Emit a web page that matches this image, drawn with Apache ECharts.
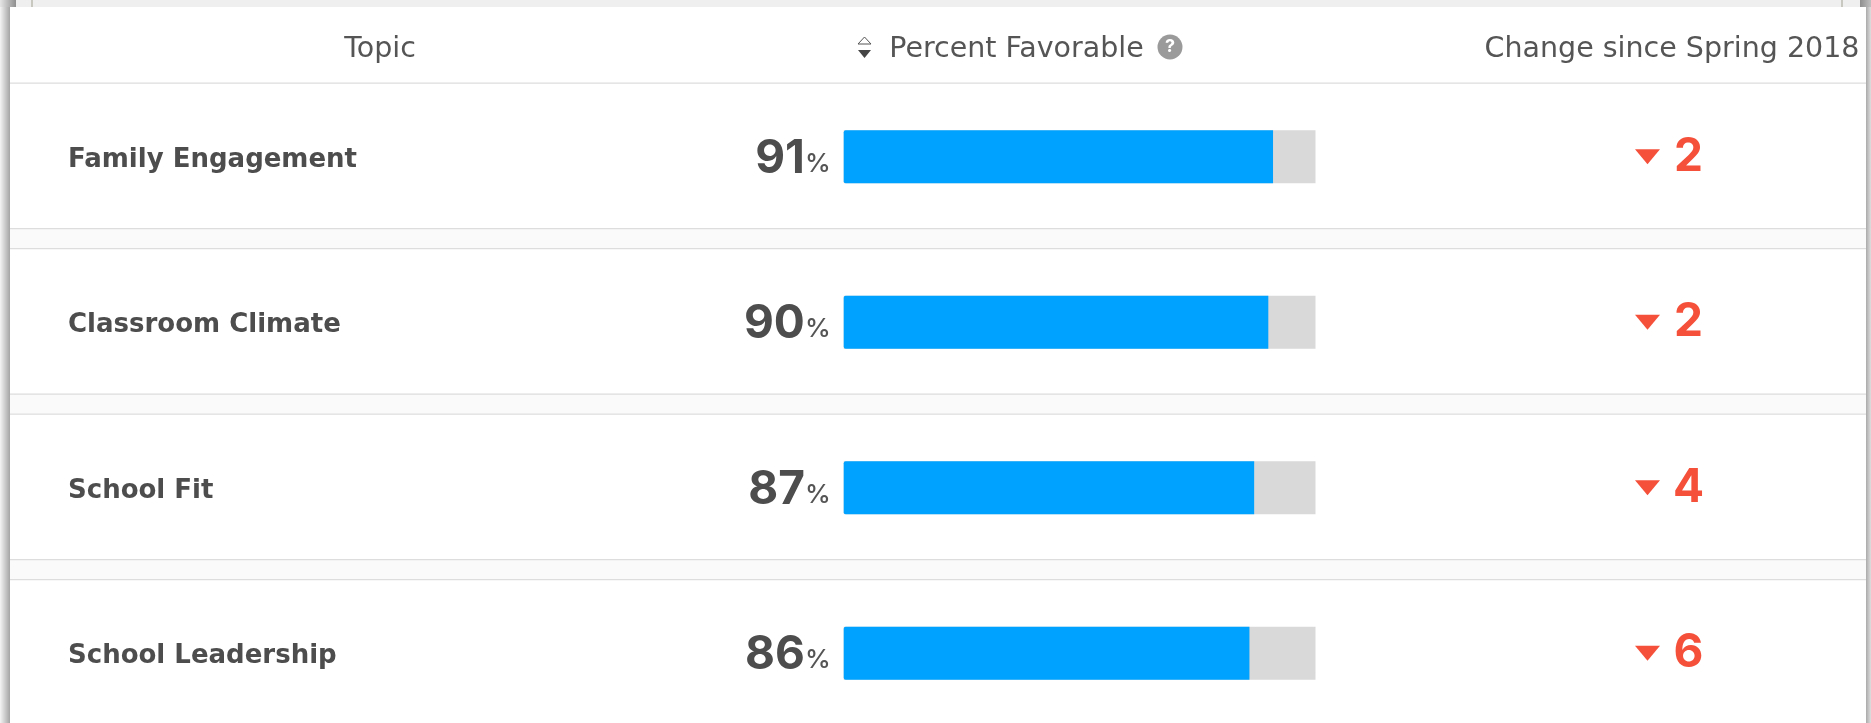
<!DOCTYPE html>
<html><head><meta charset="utf-8">
<style>html,body{margin:0;padding:0;background:#fff;overflow:hidden}#c{width:1871px;height:723px}</style>
<script src="https://cdn.jsdelivr.net/npm/echarts@6/dist/echarts.min.js"></script>
</head><body><div id="c"></div>
<script>
const topics = ['Family Engagement','Classroom Climate','School Fit','School Leadership'];
const percentFavorable = [91,90,87,86];
const changeSinceSpring = [2,2,4,6];
const headers = ['Topic','Percent Favorable','Change since Spring 2018'];
const FULL = 100;

const FONT = 'Inter, sans-serif';
const WIDE = '"DejaVu Sans", sans-serif';
const chart = echarts.init(document.getElementById('c'), null, {renderer:'canvas', width:1871, height:723});

const PITCH = 165.5, FIRST = 156.7, BARX = 843.7, BARW = 471.8;
const grad = (x0,x1,c0,c1)=>({type:'linear',x:x0,y:0,x2:x1,y2:0,global:true,colorStops:[{offset:0,color:c0},{offset:1,color:c1}]});
const r = (x,y,w,h,fill,z)=>({type:'rect',shape:{x,y,width:w,height:h},style:{fill},silent:true,z});
const chrome = [
  r(0,0,1871,723,'#efefef',-10),
  r(10,7,1856,716,'#ffffff',-9),
  r(0,0,16,7,grad(0,16,'#e6e6e6','#8e8e8e'),-8),
  r(0,7,10,716,grad(0,10,'#f4f4f4','#a4a4a4'),-8),
  r(1860,0,11,7,grad(1860,1871,'#8e8e8e','#c0c0c0'),-8),
  r(1866,7,5,716,grad(1866,1871,'#aaaaaa','#dedede'),-8),
  r(31,0,2,7,'#c8c8c0',-8),
  r(1841,0,2,7,'#c8c8c0',-8),
  r(10,82.5,1856,1.2,'#dddddd',-7)
];
for(let i=0;i<3;i++){
  const a=228+PITCH*i;
  chrome.push(r(10,a,1856,20,'#fafafa',-7));
  chrome.push(r(10,a,1856,1.2,'#dddddd',-6));
  chrome.push(r(10,a+20,1856,1.2,'#dddddd',-6));
}
chrome.push({type:'polygon',shape:{points:[[858,44],[871,44],[864.5,37]]},style:{fill:'none',stroke:'#555',lineWidth:1},silent:true});
chrome.push({type:'polygon',shape:{points:[[858,50],[871,50],[864.5,58]]},style:{fill:'#444'},silent:true});
chrome.push({type:'circle',shape:{cx:1170,cy:47,r:12.5},style:{fill:'#9a9a9a'},silent:true});
chrome.push({type:'text',style:{x:1170,y:47,text:'?',fill:'#fff',font:'bold 18px '+FONT,textAlign:'center',textVerticalAlign:'middle'},silent:true});

const head = (text,left)=>({text,left,top:49.5,padding:0,textAlign:'center',textVerticalAlign:'middle',
  textStyle:{color:'#555',fontFamily:WIDE,fontWeight:'normal',fontSize:28.5}});

chart.setOption({
  animation:false,
  backgroundColor:'transparent',
  graphic:chrome,
  grid:[
    {left:BARX,top:FIRST,width:BARW,height:PITCH*3},
    {left:1493,top:FIRST,width:350,height:PITCH*3}
  ],
  xAxis:[
    {gridIndex:0,type:'value',min:0,max:FULL,show:false},
    {gridIndex:1,type:'category',data:[headers[2]],show:false}
  ],
  yAxis:[
    {gridIndex:0,type:'category',inverse:true,boundaryGap:false,data:topics,
      axisLine:{show:false},axisTick:{show:false},
      axisLabel:{show:true,interval:0,align:'left',margin:BARX-68,
        formatter:v=>`{t|${v}}`,
        rich:{t:{color:'#4d4d4d',fontFamily:WIDE,fontWeight:'bold',fontSize:26,padding:[7,0,0,0]}}}},
    {gridIndex:1,type:'category',inverse:true,boundaryGap:false,data:topics,show:false}
  ],
  series:[
    {type:'bar',name:'Remainder',xAxisIndex:0,yAxisIndex:0,barWidth:53,barGap:'-100%',silent:true,z:1,
      data:topics.map(()=>FULL),itemStyle:{color:'#d9d9d9'}},
    {type:'bar',name:headers[1],xAxisIndex:0,yAxisIndex:0,barWidth:53,barGap:'-100%',z:2,
      data:percentFavorable,
      itemStyle:{color:'#00a2ff',borderRadius:[2,0,0,2]},
      label:{show:true,position:'left',distance:13,offset:[0,2],
        formatter:p=>`{v|${p.value}}{p|%}`,
        rich:{v:{fontFamily:FONT,fontWeight:'bold',fontSize:46,color:'#4d4d4d'},
              p:{fontFamily:FONT,fontWeight:500,fontSize:26,color:'#555',padding:[10,0,0,0]}}}},
    {type:'scatter',name:headers[2],xAxisIndex:1,yAxisIndex:1,
      data:changeSinceSpring.map((v,i)=>[0,i,v]),
      symbol:'path://M0 0H10L5 6Z',symbolSize:[25,15],symbolKeepAspect:false,symbolOffset:[-20.5,0],
      itemStyle:{color:'#f4503a',opacity:1},
      label:{show:true,position:'inside',offset:[41,0],formatter:p=>String(p.value[2]),
        fontFamily:FONT,fontWeight:'bold',fontSize:46,color:'#f4503a'}}
  ],
  title:[head(headers[0],380),head(headers[1],1016.5),head(headers[2],1672)]
});
</script></body></html>
